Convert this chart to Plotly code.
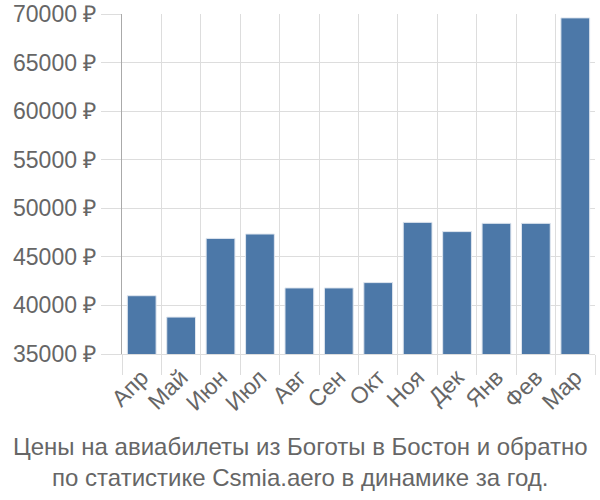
import plotly.graph_objects as go

months = ["Апр", "Май", "Июн", "Июл", "Авг", "Сен", "Окт", "Ноя", "Дек", "Янв", "Фев", "Мар"]
prices = [41000, 38800, 46900, 47350, 41800, 41800, 42350, 48550, 47600, 48450, 48450, 69600]
y_ticks = [35000, 40000, 45000, 50000, 55000, 60000, 65000, 70000]
y_labels = [f"{v} ₽" for v in y_ticks]
title_lines = ["Цены на авиабилеты из Боготы в Бостон и обратно",
               "по статистике Csmia.aero в динамике за год."]

fig = go.Figure(go.Bar(
    x=months, y=prices,
    marker=dict(color="#4c78a8", line=dict(color="#dfe6ef", width=1)),
    width=0.73,
))

font = "Liberation Sans, Arial, sans-serif"
fig.update_layout(
    width=600, height=500,
    margin=dict(l=122, r=5, t=14, b=146),
    paper_bgcolor="white", plot_bgcolor="white",
    showlegend=False,
    font=dict(family=font, size=23, color="#666666"),
    annotations=[dict(
        text="<br>".join(title_lines), x=(300 - 122) / 473, xref="paper", xanchor="center",
        y=-0.225, yref="paper", yanchor="top", showarrow=False,
        font=dict(family=font, size=24, color="#666666"),
    )],
)
fig.update_xaxes(
    type="category", tickson="boundaries", tickangle=-45, automargin=False,
    showgrid=True, gridcolor="#dddddd", gridwidth=1,
    ticks="outside", ticklen=20, tickcolor="#dddddd",
    showline=True, linecolor="#dddddd",
    tickfont=dict(size=23, color="#666666"),
)
fig.update_yaxes(
    range=[35000, 70000], tickvals=y_ticks, ticktext=y_labels, automargin=False,
    showgrid=True, gridcolor="#dddddd", gridwidth=1,
    ticks="outside", ticklen=20, tickcolor="#dddddd",
    showline=True, linecolor="#aaaaaa", zeroline=False,
    tickfont=dict(size=23, color="#666666"),
)
fig.write_html("out.html")
